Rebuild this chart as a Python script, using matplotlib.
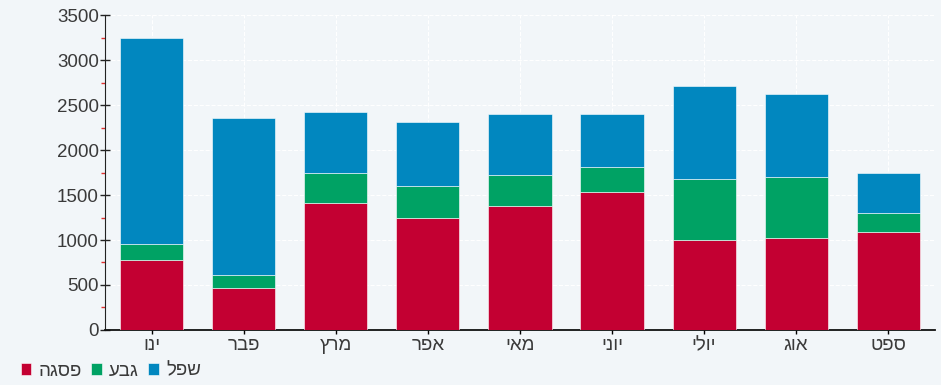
import matplotlib
matplotlib.use("Agg")
import matplotlib.pyplot as plt
import numpy as np
from matplotlib.ticker import MultipleLocator

plt.rcParams['font.family'] = ['Liberation Sans', 'DejaVu Sans']

months = ['ינו', 'פבר', 'מרץ', 'אפר', 'מאי', 'יוני', 'יולי', 'אוג', 'ספט']
peak = [780, 470, 1410, 1245, 1375, 1535, 1000, 1020, 1085]     # פסגה
mid = [175, 140, 340, 360, 350, 275, 680, 685, 210]             # גבע
low = [2295, 1745, 670, 710, 680, 585, 1035, 920, 450]          # שפל
series_names = ['פסגה', 'גבע', 'שפל']
colors = ['#c30032', '#00a264', '#0187bf']


def rtl(s):
    # matplotlib lays glyphs out left to right, so flip hebrew words
    return s[::-1]


fig = plt.figure(figsize=(9.41, 3.85), dpi=100, facecolor='#f2f6f9')
ax = fig.add_axes([0.1116, 0.1429, 0.882, 0.818])
ax.set_facecolor('none')

x = np.arange(len(months))
w = 0.685
bottom = np.zeros(len(months))
for vals, name, c in zip([peak, mid, low], series_names, colors):
    ax.bar(x, vals, w, bottom=bottom, color=c, label=rtl(name), zorder=3,
           edgecolor='white', linewidth=0.4)
    bottom += np.array(vals)

ax.set_xlim(-0.51, len(months) - 0.49)
ax.set_ylim(0, 3500)
ax.yaxis.set_major_locator(MultipleLocator(500))
ax.yaxis.set_minor_locator(MultipleLocator(250))
ax.set_xticks(x)
ax.set_xticklabels([rtl(m) for m in months])

ax.tick_params(axis='y', which='major', direction='inout', length=7, width=1,
               labelsize=13.5, colors='#222222', labelcolor='#3a3a3a', pad=1)
ax.tick_params(axis='y', which='minor', direction='out', length=3, width=1,
               color='#e03030')
ax.tick_params(axis='x', direction='out', length=3, width=1,
               labelsize=13.5, labelcolor='#3a3a3a', pad=2)

for s in ['top', 'right']:
    ax.spines[s].set_visible(False)
ax.spines['left'].set_color('#222222')
ax.spines['bottom'].set_color('#111111')
ax.spines['bottom'].set_linewidth(1.3)

ax.grid(True, color='white', linestyle='--', linewidth=0.8, zorder=0)
ax.set_axisbelow(True)

fig.legend(loc='center left', bbox_to_anchor=(0.022, 0.036), ncol=3, frameon=False,
           borderpad=0, borderaxespad=0,
           fontsize=13.5, handlelength=0.55, handleheight=0.55, handletextpad=0.4,
           columnspacing=0.5, labelcolor='#3a3a3a')

fig.savefig('out.png', dpi=100, facecolor=fig.get_facecolor())
